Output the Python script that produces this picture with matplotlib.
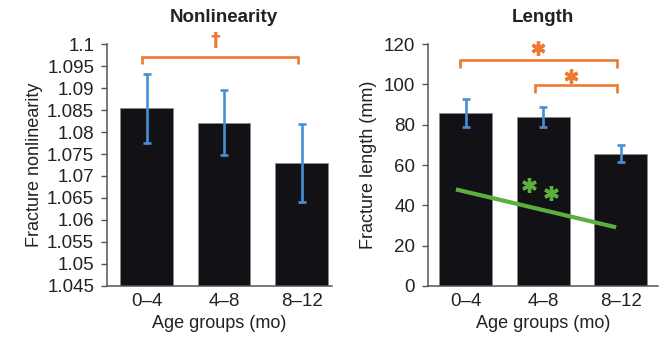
import matplotlib
matplotlib.use("Agg")
import matplotlib.pyplot as plt
import numpy as np

plt.rcParams['font.family'] = ['Liberation Sans', 'DejaVu Sans']

categories = ["0\u20134", "4\u20138", "8\u201312"]
nonlin_vals = [1.0854, 1.0821, 1.0730]
nonlin_err = [0.0078, 0.0074, 0.0088]
nonlin_ticks = [1.045, 1.05, 1.055, 1.06, 1.065, 1.07, 1.075, 1.08, 1.085, 1.09, 1.095, 1.1]
nonlin_ticklabels = ["1.045", "1.05", "1.055", "1.06", "1.065", "1.07", "1.075", "1.08",
                     "1.085", "1.09", "1.095", "1.1"]
length_vals = [85.9, 83.8, 65.6]
length_err = [7.0, 5.1, 4.2]
length_ticks = [0, 20, 40, 60, 80, 100, 120]
trend_x = [-0.125, 1.94]
trend_y = [47.9, 29.1]

BAR = '#111116'
EDGE = '#8a8a8a'
BLUE = '#4a8fd4'
ORANGE = '#ec7a2f'
GREEN = '#5cae3e'
SPINE = '#555555'
TXT = '#222222'

fig = plt.figure(figsize=(6.64, 3.43), dpi=100)
axL = fig.add_axes([0.1607, 0.1662, 0.339, 0.7055])
axR = fig.add_axes([0.644, 0.1662, 0.347, 0.7055])

x = np.arange(len(categories))


def style(ax):
    for s in ['top', 'right']:
        ax.spines[s].set_visible(False)
    for s in ['left', 'bottom']:
        ax.spines[s].set_color(SPINE)
        ax.spines[s].set_linewidth(1.1)
    ax.tick_params(axis='y', direction='out', length=4, width=1.0, color=SPINE,
                   labelsize=13.5, labelcolor=TXT, pad=5)
    ax.tick_params(axis='x', length=0, labelsize=13.5, labelcolor=TXT, pad=5)
    ax.set_xticks(x)
    ax.set_xticklabels(categories)
    ax.set_xlabel("Age groups (mo)", fontsize=13, color=TXT, labelpad=4)


def bracket(ax, x0, x1, y, drop, color=ORANGE, lw=1.9):
    ax.plot([x0, x0, x1, x1], [y - drop, y, y, y - drop], color=color, lw=lw,
            clip_on=False, solid_joinstyle='miter', solid_capstyle='butt')


# Left panel
axL.bar(x, nonlin_vals, width=0.68, color=BAR, edgecolor=EDGE, linewidth=0.7, zorder=2)
axL.errorbar(x, nonlin_vals, yerr=nonlin_err, fmt='none', ecolor=BLUE, elinewidth=1.9,
             capsize=3, capthick=1.9, zorder=3)
axL.set_xlim(-0.514, 2.39)
axL.set_ylim(1.045, 1.1)
axL.set_yticks(nonlin_ticks)
axL.set_yticklabels(nonlin_ticklabels)
style(axL)
axL.set_ylabel("Fracture nonlinearity", fontsize=13, color=TXT, labelpad=3)
axL.text(1, 1.1116, "Nonlinearity", transform=axL.get_xaxis_transform(),
         ha='center', va='center', fontsize=13.5, fontweight='bold', color=TXT)
bracket(axL, -0.062, 1.959, 1.0971, 0.0016)
axL.text(0.884, 1.1007, "\u2020", ha='center', va='center', fontsize=14,
         fontweight='bold', color=ORANGE, clip_on=False, family='DejaVu Sans')

# Right panel
axR.bar(x, length_vals, width=0.68, color=BAR, edgecolor=EDGE, linewidth=0.7, zorder=2)
axR.errorbar(x, length_vals, yerr=length_err, fmt='none', ecolor=BLUE, elinewidth=1.9,
             capsize=3, capthick=1.9, zorder=3)
axR.set_xlim(-0.49, 2.48)
axR.set_ylim(0, 120)
axR.set_yticks(length_ticks)
style(axR)
axR.set_ylabel("Fracture length (mm)", fontsize=13, color=TXT, labelpad=5)
axR.text(1, 1.1116, "Length", transform=axR.get_xaxis_transform(),
         ha='center', va='center', fontsize=13.5, fontweight='bold', color=TXT)
axR.plot(trend_x, trend_y, color=GREEN, lw=3.0, solid_capstyle='butt', zorder=4)
bracket(axR, -0.07, 1.955, 112.1, 3.8)
bracket(axR, 0.90, 1.955, 99.7, 4.1)
ast = (6, 2, 0)
axR.plot([0.93, 1.357], [118.2, 104.1], linestyle='none', marker=ast, markersize=10,
         markeredgewidth=2.4, color=ORANGE, clip_on=False, zorder=5)
axR.plot([0.822, 1.096], [50.1, 46.0], linestyle='none', marker=ast, markersize=10.5,
         markeredgewidth=2.4, color=GREEN, zorder=5)

fig.savefig("out.png", dpi=100)
